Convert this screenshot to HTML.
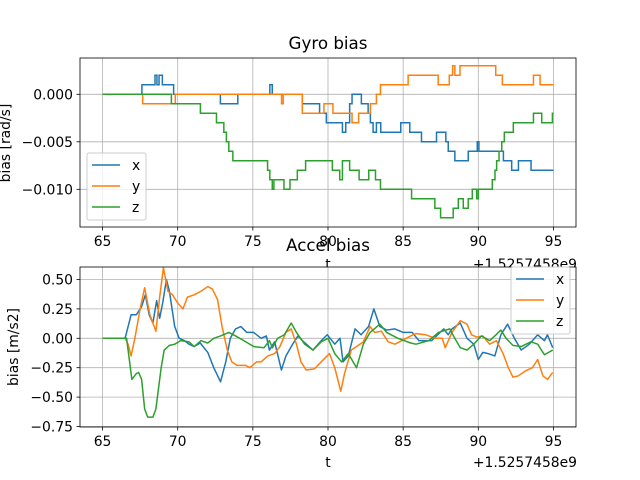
<!DOCTYPE html>
<html><head><meta charset="utf-8"><style>
body{margin:0;background:#fff}
svg{display:block;font-family:"DejaVu Sans","Liberation Sans",sans-serif}
</style></head><body>
<svg id="c" width="640" height="480" viewBox="0 0 640 480"></svg>
<script>
// ---- Gyro bias data (units of 1e-3 rad/s), step-post ----
const gxT=[65,67.62,68.49,68.62,68.76,68.98,69.73,72.84,74.0,76.13,76.29,78.29,79.44,79.89,80.96,81.18,81.44,81.6,82.22,82.67,82.82,83.0,83.22,83.51,84.84,85.44,86.22,87.22,87.84,88.0,88.44,89.33,89.93,90.04,91.67,92.22,92.67,93.51,95];
const gxV=[0,1,2,1,2,1,0,-1,0,1,0,-1,-2,-3,-4,-3,-1,0,-1,-2,-3,-4,-3,-4,-3,-4,-5,-4,-5,-6,-7,-6,-5,-6,-7,-8,-7,-8,-8];
const gyT=[65,67.67,69.84,76.91,77.02,78.29,79.73,80.33,81.6,82.04,82.82,83.22,83.49,85.33,87.33,88.07,88.29,88.44,88.56,88.78,91.16,91.6,93.67,94.11,95];
const gyV=[0,-1,0,-1,0,-2,-1,-2,-3,-2,-1,0,1,2,1,2,3,2,2,3,2,1,2,1,1];
const gzT=[65,69.58,71.51,72.58,73.07,73.24,73.4,73.67,75.98,76.13,76.29,76.4,77.07,77.47,77.96,78.51,80.29,80.78,80.96,81.44,82.07,82.71,83.16,83.49,85.56,87.11,87.49,88.33,88.67,89.0,89.33,89.6,89.89,90.0,90.93,91.11,91.22,91.38,91.56,91.73,92.33,93.67,94.22,94.93,95];
const gzV=[0,-1,-2,-3,-4,-5,-6,-7,-8,-9,-10,-9,-10,-9,-8,-7,-8,-9,-7,-8,-9,-8,-9,-10,-11,-12,-13,-12,-11,-12,-11,-10,-11,-10,-9,-8,-7,-6,-5,-4,-3,-2,-3,-2,-2];
const gTicksX=[65,70,75,80,85,90,95];
const gTicksY=[0,-0.005,-0.01];
const gTickLbl=["0.000","\u22120.005","\u22120.010"];
// ---- Accel bias data (m/s2) ----
const axT=[65,66.5,66.7,66.9,67.25,67.6,67.85,68.1,68.35,68.6,68.8,69.0,69.25,69.45,69.8,70.1,70.45,70.75,71.1,71.5,72.0,72.4,72.85,73.2,73.5,73.85,74.2,74.6,75.05,75.55,75.9,76.1,76.45,76.9,77.2,77.65,78.0,78.3,79.0,79.55,79.95,80.45,80.8,81.0,81.35,81.8,82.2,82.7,83.05,83.45,83.9,84.45,85.0,85.6,86.05,86.9,87.7,88.0,88.25,88.8,89.25,89.7,90.0,90.3,90.65,91.1,91.5,91.95,92.4,92.85,93.4,93.95,94.4,94.6,94.95];
const axV=[0,0,0.1,0.2,0.2,0.27,0.37,0.2,0.13,0.32,0.17,0.3,0.5,0.4,0.1,0,-0.02,-0.05,-0.07,-0.04,-0.12,-0.25,-0.37,-0.2,0,0.08,0.1,0.05,0.05,0,0.02,-0.1,-0.03,-0.27,-0.15,-0.05,0.02,-0.02,-0.1,-0.02,0.03,-0.05,0,-0.2,-0.15,0.08,0.03,0.1,0.25,0.1,0.07,0.08,0.05,0.05,-0.02,-0.02,0.08,0.03,0.08,0.13,0,-0.05,-0.18,-0.12,-0.13,-0.15,0.03,0.12,0,-0.1,-0.05,0.03,-0.02,0.03,-0.08];
const ayT=[65,66.5,66.7,66.9,67.15,67.5,67.8,68.15,68.55,68.8,69.05,69.35,69.65,70.0,70.35,70.65,71.1,71.55,72.0,72.3,72.65,72.95,73.3,73.6,73.95,74.5,74.8,75.25,75.55,76.0,76.45,76.8,77.2,77.55,77.9,78.2,78.55,79.1,79.55,80.1,80.45,80.85,81.1,81.55,81.9,82.35,82.8,83.1,83.55,84.0,84.45,84.9,85.5,85.85,86.5,87.15,87.6,87.8,88.25,88.8,89.25,89.55,89.9,90.3,90.75,91.2,91.65,92.0,92.3,92.65,93.1,93.6,93.95,94.3,94.6,94.95];
const ayV=[0,0,-0.05,-0.15,0,0.25,0.43,0.2,0.06,0.35,0.6,0.4,0.37,0.3,0.25,0.35,0.37,0.4,0.44,0.42,0.33,0.1,-0.1,-0.2,-0.23,-0.23,-0.25,-0.2,-0.2,-0.15,-0.13,-0.07,0.05,0.08,-0.05,-0.2,-0.27,-0.26,-0.2,-0.13,-0.25,-0.45,-0.3,-0.1,-0.07,-0.03,0.1,0.05,0.06,-0.03,-0.05,-0.02,0.02,0.04,0.03,0,0,-0.08,0.05,0.15,0.12,0.03,0.01,0.02,-0.05,-0.02,-0.13,-0.25,-0.33,-0.32,-0.28,-0.25,-0.18,-0.32,-0.35,-0.29];
const azT=[65,66.6,66.8,66.95,67.25,67.4,67.6,67.8,68.0,68.35,68.55,68.9,69.1,69.45,69.8,70.2,70.75,71.1,71.55,72.0,72.4,72.85,73.4,73.85,74.4,75.05,75.75,76.1,76.3,76.65,77.1,77.55,77.9,78.45,79.0,79.55,80.0,80.45,80.9,81.35,81.9,82.35,82.8,83.45,83.9,84.65,85.5,85.85,86.7,87.35,88.1,88.35,88.8,89.25,89.7,90.2,90.75,91.1,91.5,91.85,92.3,92.85,93.5,93.95,94.4,94.95];
const azV=[0,0,-0.2,-0.35,-0.3,-0.29,-0.35,-0.6,-0.67,-0.67,-0.6,-0.25,-0.1,-0.06,-0.05,-0.02,-0.03,-0.07,-0.02,-0.04,0,0.02,0.05,0.02,-0.02,-0.07,-0.08,-0.02,-0.08,0,0.03,0.13,0.05,-0.05,-0.1,-0.03,0,-0.13,-0.2,-0.13,-0.25,-0.05,0.05,0.12,0.05,0,-0.04,-0.05,-0.02,0.05,0.08,0.02,-0.08,-0.1,-0.05,0.02,-0.02,0.02,0.07,0,-0.06,-0.07,-0.03,-0.05,-0.14,-0.1];
const aTicksY=[0.5,0.25,0,-0.25,-0.5,-0.75];
const aTickLbl=["0.50","0.25","0.00","\u22120.25","\u22120.50","\u22120.75"];

const NS="http://www.w3.org/2000/svg";
const svg=document.getElementById('c');
function el(tag,attrs,parent){const e=document.createElementNS(NS,tag);for(const k in attrs)e.setAttribute(k,attrs[k]);(parent||svg).appendChild(e);return e;}
const L=80,R=576;
const FS=13.9;
function sx(t){return L+(t-63.5)/(96.5-63.5)*(R-L);}
const T1=58,B1=227; function sy1(v){return 94.3+(0-v)/0.01*95;}
const T2=267,B2=427; function sy2(v){return 338.3-v/0.25*29.4;}
const COL=["#1f77b4","#ff7f0e","#2ca02c"];

function axes(top,bot,sy,ticksY,lbls,name){
  const g=el('g',{});
  
  
  el('rect',{x:L,y:top,width:R-L,height:bot-top,fill:'#fff'},g);
  gTicksX.forEach(t=>{const x=sx(t);
    el('line',{x1:x,x2:x,y1:top,y2:bot,stroke:'#b0b0b0','stroke-width':0.8},g);
    el('line',{x1:x,x2:x,y1:bot,y2:bot+3.5,stroke:'#000','stroke-width':0.8},g);
    const tx=el('text',{x:x,y:bot+19,'text-anchor':'middle','font-size':FS},g);tx.textContent=t;
    
    
  });
  ticksY.forEach((v,i)=>{const y=sy(v);
    el('line',{x1:L,x2:R,y1:y,y2:y,stroke:'#b0b0b0','stroke-width':0.8},g);
    el('line',{x1:L-3.5,x2:L,y1:y,y2:y,stroke:'#000','stroke-width':0.8},g);
    const tx=el('text',{x:L-7,y:y+5,'text-anchor':'end','font-size':FS},g);tx.textContent=lbls[i];
    
    
  });
  return g;
}
function stepPath(T,V,g,c,name){let d='';for(let i=0;i<T.length;i++){const x=sx(T[i]),y=sy1(V[i]*0.001);
  if(i===0)d='M'+x+','+y;else{d+=' H'+x+' V'+y;}}
  const p=el('path',{d:d,fill:'none',stroke:c,'stroke-width':1.5},g);
  
  }
function linePath(T,V,g,c,name){const d=T.map((t,i)=>(i?'L':'M')+sx(t).toFixed(2)+','+sy2(V[i]).toFixed(2)).join(' ');
  const p=el('path',{d:d,fill:'none',stroke:c,'stroke-width':1.5,'stroke-linejoin':'round'},g);
  
  }
function legend(x,y,g,name){const lg=el('g',{},g);
  
  
  el('rect',{x:x,y:y,width:59,height:67,rx:2,fill:'#fff','fill-opacity':0.8,stroke:'#ccc','stroke-width':1},lg);
  ['x','y','z'].forEach((s,i)=>{const yy=y+12+i*21;
    el('line',{x1:x+5,x2:x+33,y1:yy,y2:yy,stroke:COL[i],'stroke-width':1.5},lg);
    const t=el('text',{x:x+45,y:yy+5,'font-size':FS},lg);t.textContent=s;});
}
function text(s,x,y,size,name,extra){const t=el('text',Object.assign({x:x,y:y,'font-size':size},extra||{}));t.textContent=s;
  
  return t;}

// top plot
const g1=axes(T1,B1,sy1,gTicksY,gTickLbl,'gyro-axes');
const clip1=el('clipPath',{id:'c1'});el('rect',{x:L,y:T1,width:R-L,height:B1-T1},clip1);
const s1=el('g',{'clip-path':'url(#c1)'},g1);
stepPath(gxT,gxV,s1,COL[0],'gyro-x-line');
stepPath(gyT,gyV,s1,COL[1],'gyro-y-line');
stepPath(gzT,gzV,s1,COL[2],'gyro-z-line');
el('rect',{x:L,y:T1,width:R-L,height:B1-T1,fill:'none',stroke:'#000','stroke-width':0.8},g1);
legend(87,153,g1,'gyro-legend');
text('Gyro bias',328,49,16.7,'gyro-title',{'text-anchor':'middle'});
text('bias [rad/s]',10,143,FS,'gyro-y-axis-title',{'text-anchor':'middle',transform:'rotate(-90 10 143)'});
text('t',328,269,FS,'gyro-x-axis-title',{'text-anchor':'middle'});
text('+1.5257458e9',577,269,FS,'gyro-x-offset',{'text-anchor':'end'});

// bottom plot (drawn over the top plot's x label / offset, as in reference)
const g2=axes(T2,B2,sy2,aTicksY,aTickLbl,'accel-axes');
const clip2=el('clipPath',{id:'c2'});el('rect',{x:L,y:T2,width:R-L,height:B2-T2},clip2);
const s2=el('g',{'clip-path':'url(#c2)'},g2);
linePath(axT,axV,s2,COL[0],'accel-x-line');
linePath(ayT,ayV,s2,COL[1],'accel-y-line');
linePath(azT,azV,s2,COL[2],'accel-z-line');
el('rect',{x:L,y:T2,width:R-L,height:B2-T2,fill:'none',stroke:'#000','stroke-width':0.8},g2);
legend(511,267,g2,'accel-legend');
text('Accel bias',328,251,16.7,'accel-title',{'text-anchor':'middle'});
text('bias [m/s2]',18,347,FS,'accel-y-axis-title',{'text-anchor':'middle',transform:'rotate(-90 18 347)'});
text('t',328,467,FS,'accel-x-axis-title',{'text-anchor':'middle'});
text('+1.5257458e9',577,467,FS,'accel-x-offset',{'text-anchor':'end'});
</script>
</body></html>
